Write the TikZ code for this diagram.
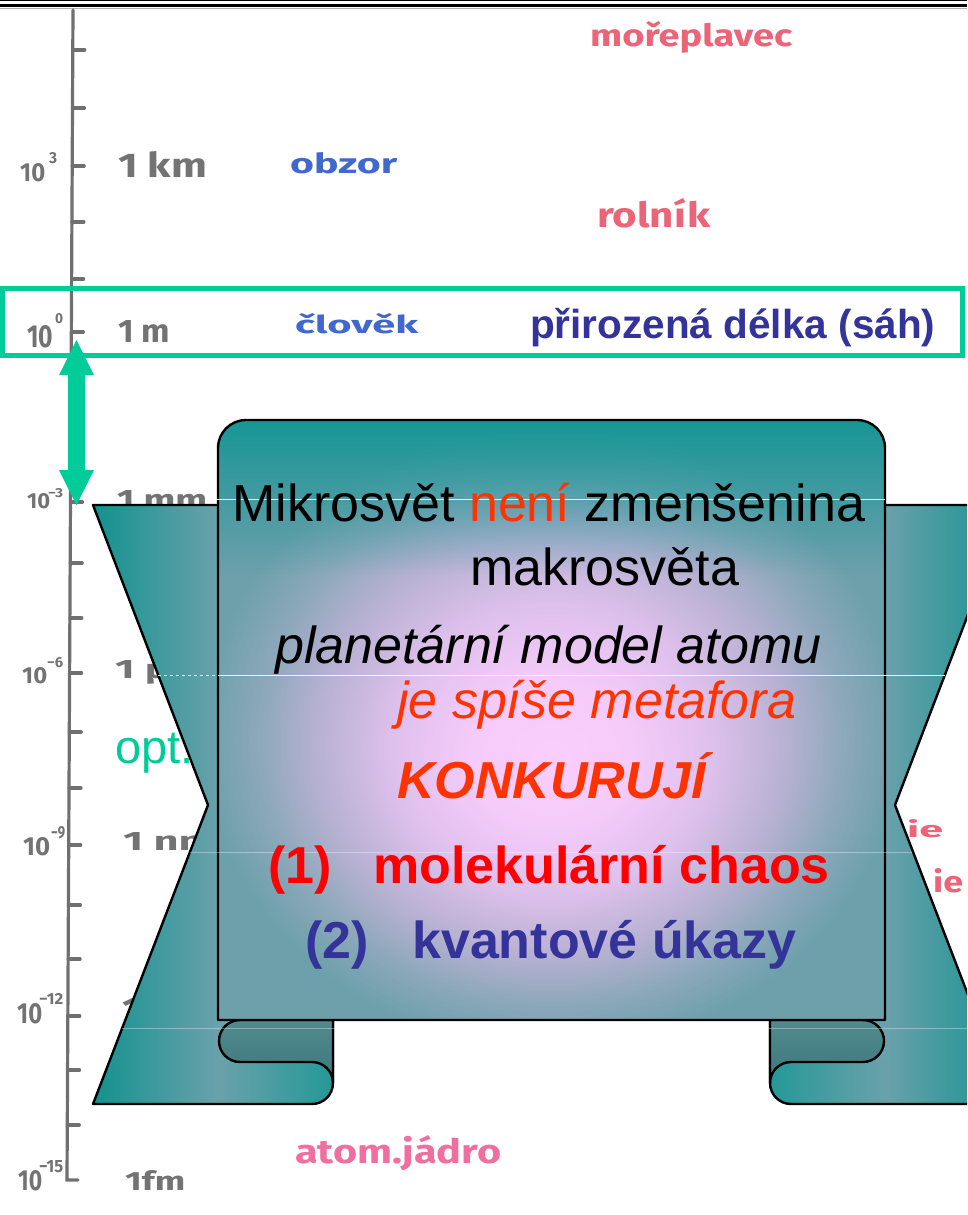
\documentclass[tikz,border=0pt]{standalone}
\usepackage{fontspec}
\usepackage{graphicx}
\usetikzlibrary{fadings}
\setmainfont{Liberation Sans}
\newfontfamily\hwfont{Fira Sans}
\definecolor{axisgray}{RGB}{112,112,112}
\definecolor{hwgray}{RGB}{115,115,115}
\definecolor{hwblue}{RGB}{65,105,205}
\definecolor{hwpink}{RGB}{235,100,120}
\definecolor{hwrose}{RGB}{240,110,160}
\definecolor{mint}{RGB}{0,204,153}
\definecolor{navy}{RGB}{51,51,153}
\definecolor{orangered}{RGB}{255,51,0}
\definecolor{pureRed}{RGB}{255,0,0}
\definecolor{tealA}{RGB}{18,146,143}
\definecolor{tealB}{RGB}{22,150,150}
\definecolor{tealS}{RGB}{35,152,150}
\definecolor{greyW}{RGB}{106,161,171}
\definecolor{greyT}{RGB}{110,160,172}
\definecolor{greyU}{RGB}{140,168,186}
\definecolor{lavD}{RGB}{180,176,208}
\definecolor{lavC}{RGB}{222,192,236}
\definecolor{pinkB}{RGB}{245,203,250}
\definecolor{pinkC}{RGB}{250,206,252}
\definecolor{foldTop}{RGB}{82,138,142}
\definecolor{foldBot}{RGB}{62,120,124}
\pgfdeclareradialshading{panelshade}{\pgfpoint{0bp}{-3.3bp}}{color(0bp)=(pinkC); color(6bp)=(pinkB); color(12bp)=(lavC); color(18bp)=(lavD); color(22bp)=(greyU); color(26bp)=(greyT); color(45bp)=(greyT)}
\pgfdeclarehorizontalshading{wingleft}{100bp}{color(0bp)=(tealA); color(25bp)=(tealA); color(51bp)=(greyW); color(100bp)=(greyW)}
\pgfdeclarehorizontalshading{wingright}{100bp}{color(0bp)=(greyW); color(49bp)=(greyW); color(75bp)=(tealA); color(100bp)=(tealA)}
\tikzfading[name=tealtop, top color=transparent!0, bottom color=transparent!100]
\newcommand{\hw}[7]{\node[anchor=base west, inner sep=0pt, text=#6] (#1) at (#2,#3) {\resizebox{#4pt}{#5pt}{\hwfont\bfseries #7}};}
\tikzset{
  outline/.style={draw=black, line width=2.4pt, line join=round},
  bigtext/.style={anchor=base west, inner sep=0pt, font=\fontsize{52}{60}\selectfont},
  tickline/.style={axisgray, line width=3.2pt, line cap=round},
  faint/.style={white, line width=1pt}
}
\begin{document}
\begin{tikzpicture}[x=1pt, y=-1pt]
\useasboundingbox (0,0) rectangle (967,1215);
\clip (0,0) rectangle (967,1215);
\fill[white] (0,0) rectangle (967,1215);
% top rules
\draw[black, line width=1.5pt] (0,0.75) -- (967,0.75);
\draw[black, line width=3.5pt] (0,5.5) -- (967,5.5);
\draw[gray!60, line width=1pt] (0,9) -- (967,9);
% axis
\coordinate (axtop) at (73,10);
\coordinate (axbot) at (67,1180);
\draw[tickline] (axtop) -- (axbot) -- ++(11,0);
\foreach \ty in {50,108,166,222,279,332,390,445,502,563,618,673,732,788,845,905,959,1016,1070,1125}{
  \draw[tickline] ({73-6*(\ty-10)/1170},\ty) -- ++(12,0);
}
% axis labels
\hw{e3}{20}{181}{25}{18}{hwgray}{10}
\hw{e3s}{49}{163}{8}{11}{hwgray}{3}
\hw{e0}{27}{347}{26}{22}{hwgray}{10}
\hw{e0s}{55}{323}{8}{10}{hwgray}{0}
\hw{em3}{27}{508}{23}{15}{hwgray}{10}
\hw{em3s}{48}{497}{15}{9}{hwgray}{−3}
\hw{em6}{22}{683}{25}{16}{hwgray}{10}
\hw{em6s}{47}{667}{16}{10}{hwgray}{−6}
\hw{em9}{23}{855}{27}{18}{hwgray}{10}
\hw{em9s}{51}{838}{14}{12}{hwgray}{−9}
\hw{em12}{17}{1023}{25}{20}{hwgray}{10}
\hw{em12s}{39}{1004}{24}{11}{hwgray}{−12}
\hw{em15}{18}{1190}{24}{20}{hwgray}{10}
\hw{em15s}{39}{1172}{24}{12}{hwgray}{−15}
% unit labels
\hw{km}{118}{177}{89}{26}{hwgray}{1 km}
\hw{m}{118}{342}{52}{22}{hwgray}{1 m}
\hw{mm}{117}{510}{90}{20}{hwgray}{1 mm}
\hw{um}{115}{678}{90}{18}{hwgray}{1 μm}
\hw{nm}{123}{850}{92}{18}{hwgray}{1 nm}
\hw{pm}{122}{1020}{90}{22}{hwgray}{1 pm}
\hw{fm}{125}{1190}{60}{20}{hwgray}{1fm}
% coloured handwriting
\hw{morep}{590}{47}{202}{25}{hwpink}{mořeplavec}
\hw{obzor}{290}{173}{107}{21}{hwblue}{obzor}
\hw{rolnik}{597}{227}{113}{29}{hwpink}{rolník}
\hw{clovek}{295}{333}{123}{20}{hwblue}{člověk}
\hw{jadro}{295}{1163}{206}{28}{hwrose}{atom.jádro}
\hw{ieA}{907}{837}{36}{18}{hwpink}{ie}
\hw{ieB}{933}{892}{30}{24}{hwpink}{ie}
% green box and label
\draw[mint, line width=5pt] (2,288) rectangle (962,355);
\node[anchor=base west, inner sep=0pt, text=navy, font=\fontsize{40.5}{48}\selectfont\bfseries] (sah) at (530,338) {přirozená délka (sáh)};
% opt.
\node[anchor=base west, inner sep=0pt, text=mint, font=\fontsize{47}{56}\selectfont] (opt) at (115,763) {opt.};
% green double arrow
\fill[mint] (76.5,340) -- (94,375) -- (85,375) -- (85,470) -- (94,470) -- (76.5,505) -- (59,470) -- (68,470) -- (68,375) -- (59,375) -- cycle;
% ribbon: left wing
\shade[shading=wingleft] (93,505) -- (333,505) -- (333,1083) arc[start angle=0, end angle=-90, radius=21pt] -- (93,1104) -- (208,805) -- cycle;
\begin{scope}
  \clip (93,505) -- (333,505) -- (333,1083) arc[start angle=0, end angle=-90, radius=21pt] -- (93,1104) -- (208,805) -- cycle;
  \shade[left color=greyW, right color=tealS] (218,1060) rectangle (336,1108);
\end{scope}
\draw[outline] (93,505) -- (333,505) -- (333,1083) arc[start angle=0, end angle=-90, radius=21pt] -- (93,1104) -- (208,805) -- cycle;
% ribbon: right wing
\shade[shading=wingright] (1010,505) -- (770,505) -- (770,1083) arc[start angle=180, end angle=270, radius=21pt] -- (1010,1104) -- (895,805) -- cycle;
\begin{scope}
  \clip (1010,505) -- (770,505) -- (770,1083) arc[start angle=180, end angle=270, radius=21pt] -- (1010,1104) -- (895,805) -- cycle;
  \shade[left color=tealS, right color=greyW] (767,1060) rectangle (885,1108);
\end{scope}
\draw[outline] (1010,505) -- (770,505) -- (770,1083) arc[start angle=180, end angle=270, radius=21pt] -- (1010,1104) -- (895,805) -- cycle;
% folds
\shadedraw[top color=foldTop, bottom color=foldBot, outline] (240,1020) -- (333,1020) -- (333,1083) arc[start angle=0, end angle=90, radius=21pt] -- (240,1062) arc[start angle=270, end angle=90, radius=21pt] -- cycle;
\shadedraw[top color=foldTop, bottom color=foldBot, outline] (863,1020) -- (770,1020) -- (770,1083) arc[start angle=180, end angle=90, radius=21pt] -- (863,1062) arc[start angle=-90, end angle=90, radius=21pt] -- cycle;
% central panel
\shade[shading=panelshade] (218,1020) -- (218,448) arc[start angle=180, end angle=90, radius=28pt] -- (857,420) arc[start angle=90, end angle=0, radius=28pt] -- (885,1020) -- cycle;
\begin{scope}
  \clip (218,1020) -- (218,448) arc[start angle=180, end angle=90, radius=28pt] -- (857,420) arc[start angle=90, end angle=0, radius=28pt] -- (885,1020) -- cycle;
  \fill[tealB, path fading=tealtop] (215,418) rectangle (888,575);
\end{scope}
\draw[outline] (218,1020) -- (218,448) arc[start angle=180, end angle=90, radius=28pt] -- (857,420) arc[start angle=90, end angle=0, radius=28pt] -- (885,1020) -- cycle;
% faint white lines
\draw[faint, opacity=0.85] (215,499) -- (885,499);
\draw[faint, opacity=0.85, dashed] (158,675) -- (218,675);
\draw[faint, opacity=0.85] (218,675) -- (945,675);
\draw[faint, opacity=0.35] (190,852) -- (912,852);
\draw[faint, opacity=0.35] (122,1028) -- (967,1028);
% panel text
\node[bigtext] (l1) at (232,521) {Mikrosvět \textcolor{orangered}{není} zmenšenina};
\node[bigtext] (l2) at (470,585) {makrosvěta};
\node[bigtext, font=\fontsize{52}{60}\selectfont\itshape] (l3) at (275,663) {planetární model atomu};
\node[bigtext, font=\fontsize{52}{60}\selectfont\itshape, text=orangered] (l4) at (397,718) {je spíše metafora};
\node[bigtext, font=\fontsize{52}{60}\selectfont\bfseries\itshape, text=orangered] (l5) at (397,798) {KONKURUJÍ};
\node[bigtext, font=\fontsize{52}{60}\selectfont\bfseries, text=pureRed] (n1) at (268,883) {(1)};
\node[bigtext, font=\fontsize{52}{60}\selectfont\bfseries, text=pureRed] (l6) at (373,883) {molekulární chaos};
\node[bigtext, font=\fontsize{52}{60}\selectfont\bfseries, text=navy] (n2) at (305,958) {(2)};
\node[bigtext, font=\fontsize{52}{60}\selectfont\bfseries, text=navy] (l7) at (412,958) {kvantové úkazy};
\end{tikzpicture}
\end{document}
